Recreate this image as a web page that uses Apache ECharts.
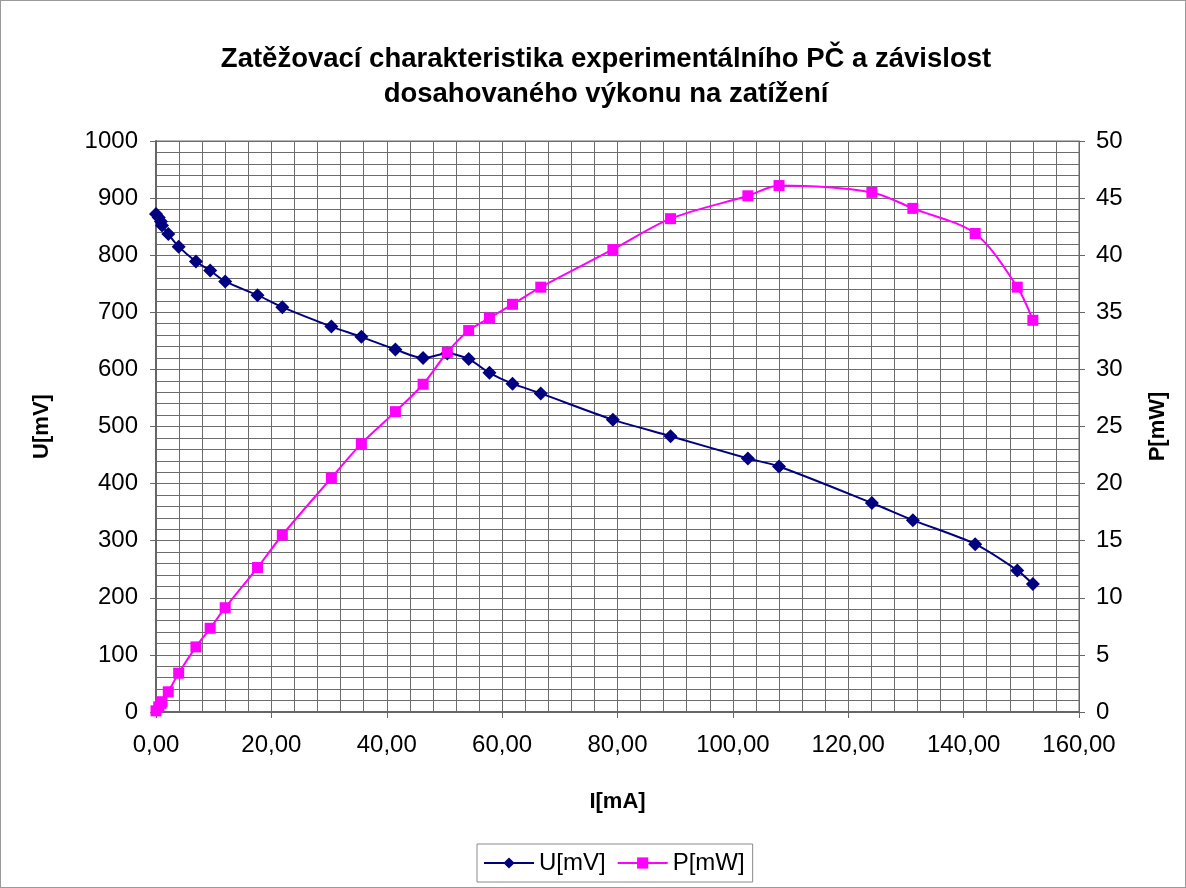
<!DOCTYPE html>
<html lang="cs">
<head>
  <meta charset="UTF-8">
  <title>Zatěžovací charakteristika</title>
  <style>
    body{ margin:0; }
    #main{
      width:1186px;
      height:888px;
      box-sizing:border-box;
      border:1px solid #9a9a9a;
      background:#fff;
    }
  </style>
</head>
<body>
  <div id="main"></div>
  <script src="https://cdn.jsdelivr.net/npm/echarts@6/dist/echarts.min.js"></script>
  <script>
    // proud I[mA]
    const proud=[0,0.47,0.86,1.04,2.13,3.93,6.92,9.39,11.99,17.6,21.9,30.4,35.6,41.5,46.3,50.5,54.2,57.8,61.8,66.7,79.2,89.2,102.6,108.0,124.1,131.2,142.0,149.3,152.0];
    // napětí U[mV]
    const napeti=[872,866,859,852,837,815,789,773,754,730,709,675,657,635,620,628,618,594,575,558,512,483,444,430,366,336,294,248,224];
    // výkon P[mW]
    const vykon=[0.1,0.45,0.75,0.9,1.77,3.4,5.7,7.33,9.13,12.65,15.5,20.5,23.5,26.3,28.7,31.5,33.4,34.5,35.7,37.2,40.5,43.2,45.2,46.1,45.5,44.1,41.9,37.2,34.3];

    const font='Liberation Sans, Arial, sans-serif';
    const gridCol='#6c6c6c';

    const dataU=proud.map((x,i)=>[x,napeti[i]]);
    const dataP=proud.map((x,i)=>[x,vykon[i]]);

    const chart=echarts.init(document.querySelector('#main'));
    const option={
      animation:false,
      textStyle:{fontFamily:font},
      title:{
        text:'Zatěžovací charakteristika experimentálního PČ a závislost\ndosahovaného výkonu na zatížení',
        left:600,
        textAlign:'center',
        top:36,
        textStyle:{fontFamily:font,fontSize:27.5,fontWeight:'bold',color:'#000',lineHeight:35}
      },
      legend:{
        bottom:5,
        left:476,
        padding:[7,8,7,6],
        borderColor:'#8a8a8a',
        borderWidth:1,
        itemWidth:50,
        itemHeight:14,
        itemGap:11,
        textStyle:{fontFamily:font,fontSize:24,color:'#000'},
        data:['U[mV]','P[mW]']
      },
      grid:{left:155,top:140,right:106,bottom:175,show:true,borderColor:gridCol,borderWidth:1},
      xAxis:{
        type:'value',
        min:0,max:160,interval:20,
        name:'I[mA]',
        nameLocation:'middle',
        nameGap:79,
        nameTextStyle:{fontFamily:font,fontSize:22,fontWeight:'bold',color:'#000'},
        axisLine:{lineStyle:{color:'#666',width:2}},
        axisTick:{show:true,length:6,lineStyle:{color:'#666'}},
        axisLabel:{margin:21,fontSize:24,color:'#000',formatter:v=>v.toFixed(2).replace('.',',')},
        splitLine:{show:true,lineStyle:{color:gridCol,width:1}},
        minorTick:{show:false,splitNumber:5},
        minorSplitLine:{show:true,lineStyle:{color:gridCol,width:1}}
      },
      yAxis:[
        {
          type:'value',
          min:0,max:1000,interval:100,
          name:'U[mV]',
          nameLocation:'middle',
          nameRotate:90,
          nameGap:103,
          nameTextStyle:{fontFamily:font,fontSize:22,fontWeight:'bold',color:'#000'},
          axisLine:{show:true,lineStyle:{color:'#666',width:2}},
          axisTick:{show:true,length:6,lineStyle:{color:'#666'}},
          axisLabel:{margin:18,fontSize:24,color:'#000',formatter:v=>String(v)},
          splitLine:{show:true,lineStyle:{color:gridCol,width:1}},
          minorTick:{show:false,splitNumber:5},
          minorSplitLine:{show:true,lineStyle:{color:gridCol,width:1}}
        },
        {
          type:'value',
          min:0,max:50,interval:5,
          position:'right',
          name:'P[mW]',
          nameLocation:'middle',
          nameRotate:90,
          nameGap:68,
          nameTextStyle:{fontFamily:font,fontSize:22,fontWeight:'bold',color:'#000'},
          axisLine:{show:true,lineStyle:{color:'#666',width:1}},
          axisTick:{show:true,length:6,lineStyle:{color:'#666'}},
          axisLabel:{margin:17,fontSize:24,color:'#000'},
          splitLine:{show:false}
        }
      ],
      series:[
        {
          name:'U[mV]',
          type:'line',
          yAxisIndex:0,
          data:dataU,
          smooth:0.3,
          symbol:'diamond',
          symbolSize:14,
          itemStyle:{color:'#000080'},
          lineStyle:{color:'#000080',width:2}
        },
        {
          name:'P[mW]',
          type:'line',
          yAxisIndex:1,
          data:dataP,
          smooth:0.3,
          symbol:'rect',
          symbolSize:11,
          itemStyle:{color:'#ff00ff'},
          lineStyle:{color:'#ff00ff',width:2}
        }
      ]
    };
    chart.setOption(option);
  </script>
</body>
</html>
